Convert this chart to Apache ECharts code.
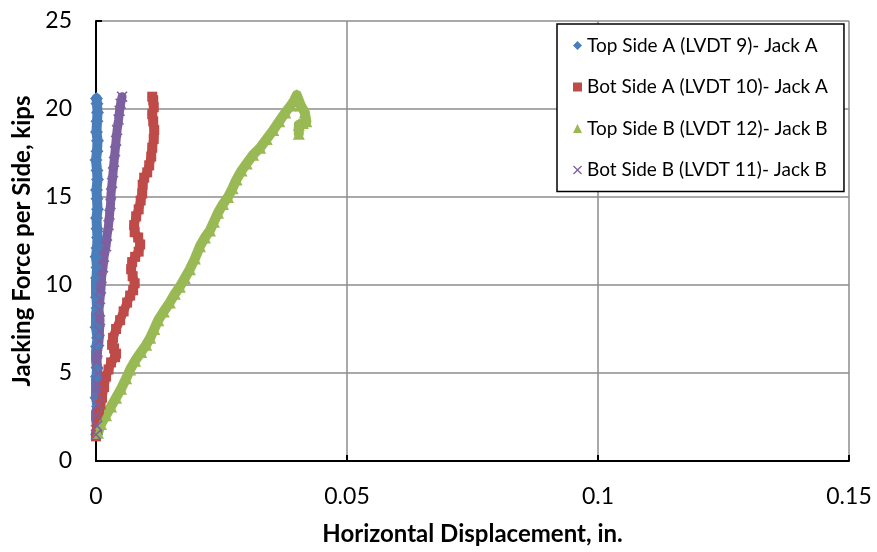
<!DOCTYPE html>
<html>
<head>
<meta charset="utf-8">
<script src="https://cdn.jsdelivr.net/npm/echarts@6/dist/echarts.min.js"></script>
<style>
html,body{margin:0;padding:0;background:#fff;}
#chart{width:877px;height:552px;}
</style>
</head>
<body>
<div id="chart"></div>
<script>
// Series names
var seriesNames = [
  'Top Side A (LVDT 9)- Jack A',
  'Bot Side A (LVDT 10)- Jack A',
  'Top Side B (LVDT 12)- Jack B',
  'Bot Side B (LVDT 11)- Jack B'
];
// Axis tick values
var xTicks = [0, 0.05, 0.1, 0.15];
var yTicks = [0, 5, 10, 15, 20, 25];

// [displacement (in.), force (kips)]
var topSideA = [
  [0.0001,1.5],[0.0002,2.0],[-0.0001,2.6],[0.0003,3.1],[0.0000,3.6],[-0.0002,4.2],[0.0001,4.8],
  [0.0002,5.3],[-0.0001,5.9],[0.0001,6.5],[0.0003,7.0],[0.0000,7.6],[-0.0001,8.2],[0.0002,8.7],
  [0.0001,9.3],[-0.0002,9.9],[0.0001,10.4],[0.0002,11.0],[0.0000,11.6],[0.0002,12.1],[0.0003,12.7],
  [0.0002,13.2],[0.0001,13.8],[0.0003,14.3],[0.0002,14.9],[0.0001,15.4],[0.0003,16.0],[0.0002,16.5],
  [0.0000,17.1],[0.0002,17.6],[0.0003,18.2],[0.0001,18.7],[0.0002,19.3],[0.0003,19.8],[0.0002,20.3],
  [0.0001,20.6]
];
var botSideA = [
  [0.0000,1.4],[0.0002,1.8],[0.0004,2.3],[0.0006,2.7],[0.0009,3.2],[0.0012,3.6],[0.0016,4.2],
  [0.0020,4.8],[0.0025,5.2],[0.0030,5.6],[0.0038,5.9],[0.0040,6.1],[0.0036,6.4],[0.0032,6.6],
  [0.0034,7.0],[0.0040,7.5],[0.0048,8.0],[0.0055,8.5],[0.0062,9.0],[0.0068,9.4],[0.0074,9.7],
  [0.0077,10.1],[0.0073,10.5],[0.0070,10.9],[0.0072,11.3],[0.0078,11.6],[0.0085,11.9],[0.0088,12.3],
  [0.0084,12.7],[0.0077,13.0],[0.0076,13.4],[0.0080,13.9],[0.0085,14.3],[0.0089,14.8],[0.0092,15.2],
  [0.0093,15.7],[0.0096,16.1],[0.0102,16.4],[0.0106,16.8],[0.0110,17.3],[0.0112,17.8],[0.0115,18.3],
  [0.0116,18.8],[0.0114,19.3],[0.0112,19.7],[0.0115,20.1],[0.0114,20.5],[0.0112,20.7]
];
var topSideB = [
  [0.0004,1.6],[0.0010,2.1],[0.0020,2.6],[0.0030,3.1],[0.0040,3.6],[0.0050,4.1],[0.0060,4.7],
  [0.0068,5.2],[0.0078,5.7],[0.0090,6.2],[0.0100,6.6],[0.0108,7.0],[0.0116,7.5],[0.0124,8.0],
  [0.0135,8.5],[0.0147,9.0],[0.0157,9.5],[0.0167,9.9],[0.0177,10.4],[0.0187,10.9],[0.0197,11.5],
  [0.0207,12.2],[0.0217,12.7],[0.0227,13.1],[0.0235,13.6],[0.0243,14.1],[0.0253,14.6],[0.0263,15.0],
  [0.0272,15.5],[0.0280,16.0],[0.0290,16.5],[0.0300,16.9],[0.0313,17.4],[0.0327,17.8],[0.0340,18.3],
  [0.0353,18.8],[0.0365,19.3],[0.0377,19.8],[0.0388,20.2],[0.0395,20.5],[0.0400,20.8],[0.0408,20.2],
  [0.0416,19.8],[0.0419,19.3],[0.0412,19.2],[0.0404,19.1],[0.0404,18.6]
];
var botSideB = [
  [0.0000,1.5],[0.0002,2.0],[0.0001,2.6],[0.0003,3.2],[0.0002,3.8],[0.0003,4.4],[0.0004,5.0],
  [0.0002,5.6],[0.0003,6.2],[0.0006,6.8],[0.0007,7.4],[0.0008,8.0],[0.0006,8.6],[0.0008,9.2],
  [0.0010,9.8],[0.0011,10.4],[0.0014,11.0],[0.0016,11.6],[0.0020,12.2],[0.0022,12.8],[0.0025,13.4],
  [0.0027,14.0],[0.0029,14.6],[0.0030,15.2],[0.0032,15.8],[0.0034,16.4],[0.0036,17.0],[0.0038,17.6],
  [0.0040,18.2],[0.0042,18.8],[0.0045,19.4],[0.0047,19.9],[0.0049,20.3],[0.0052,20.7]
];

var colors = ['#4a7ebb', '#be4b48', '#98b954', '#7d60a0'];
var crossPath = 'path://M0,1L1,0L5,4L9,0L10,1L6,5L10,9L9,10L5,6L1,10L0,9L4,5Z';
var symbols = ['diamond', 'rect', 'triangle', crossPath];
var dataSets = [topSideA, botSideA, topSideB, botSideB];
var lineWidths = [10, 9, 10, 9];
var symSizes = [13, 10, 12, 11];
var FONT = 'Lato, "Open Sans", sans-serif';

var chart = echarts.init(document.getElementById('chart'), null, {renderer: 'canvas'});
var series = dataSets.map(function (d, i) {
  return {
    name: seriesNames[i],
    type: 'line',
    data: d,
    symbol: symbols[i],
    symbolSize: symSizes[i],
    showSymbol: true,
    showAllSymbol: true,
    smooth: false,
    lineStyle: {color: colors[i], width: lineWidths[i], join: 'round', cap: 'round'},
    itemStyle: {color: colors[i]},
    silent: true,
    animation: false,
    z: 3
  };
});

chart.setOption({
  animation: false,
  backgroundColor: '#ffffff',
  grid: {left: 96, right: 28, top: 21, bottom: 91, containLabel: false},
  xAxis: {
    type: 'value', min: xTicks[0], max: xTicks[xTicks.length - 1], interval: 0.05,
    name: 'Horizontal Displacement, in.', nameLocation: 'middle', nameGap: 61,
    nameTextStyle: {fontFamily: FONT, fontWeight: 'bold', fontSize: 24, color: '#000'},
    axisLine: {show: true, lineStyle: {color: '#000', width: 2}},
    axisTick: {show: true, inside: true, length: 6, lineStyle: {color: '#000', width: 2}},
    splitLine: {show: true, lineStyle: {color: '#8c8c8c', width: 1.5}},
    axisLabel: {fontFamily: FONT, fontSize: 23, color: '#000', margin: 24,
      formatter: function (v) { return String(v); }}
  },
  yAxis: {
    type: 'value', min: yTicks[0], max: yTicks[yTicks.length - 1], interval: 5,
    name: 'Jacking Force per Side, kips', nameLocation: 'middle', nameGap: 62,
    nameTextStyle: {fontFamily: FONT, fontWeight: 'bold', fontSize: 24, color: '#000'},
    axisLine: {show: true, lineStyle: {color: '#000', width: 2}},
    axisTick: {show: true, inside: true, length: 6, lineStyle: {color: '#000', width: 2}},
    splitLine: {show: true, lineStyle: {color: '#8c8c8c', width: 1.5}},
    axisLabel: {fontFamily: FONT, fontSize: 23, color: '#000', margin: 24}
  },
  legend: {
    orient: 'vertical', left: 557, top: 24,
    backgroundColor: '#fff', borderColor: '#000', borderWidth: 1.5,
    padding: [12, 16, 12, 16],
    itemGap: 22.5, itemWidth: 9, itemHeight: 9,
    textStyle: {fontFamily: FONT, fontSize: 19, color: '#000'},
    data: seriesNames.map(function (n, i) { return {name: n, icon: symbols[i]}; })
  },
  series: series
});
</script>
</body>
</html>
